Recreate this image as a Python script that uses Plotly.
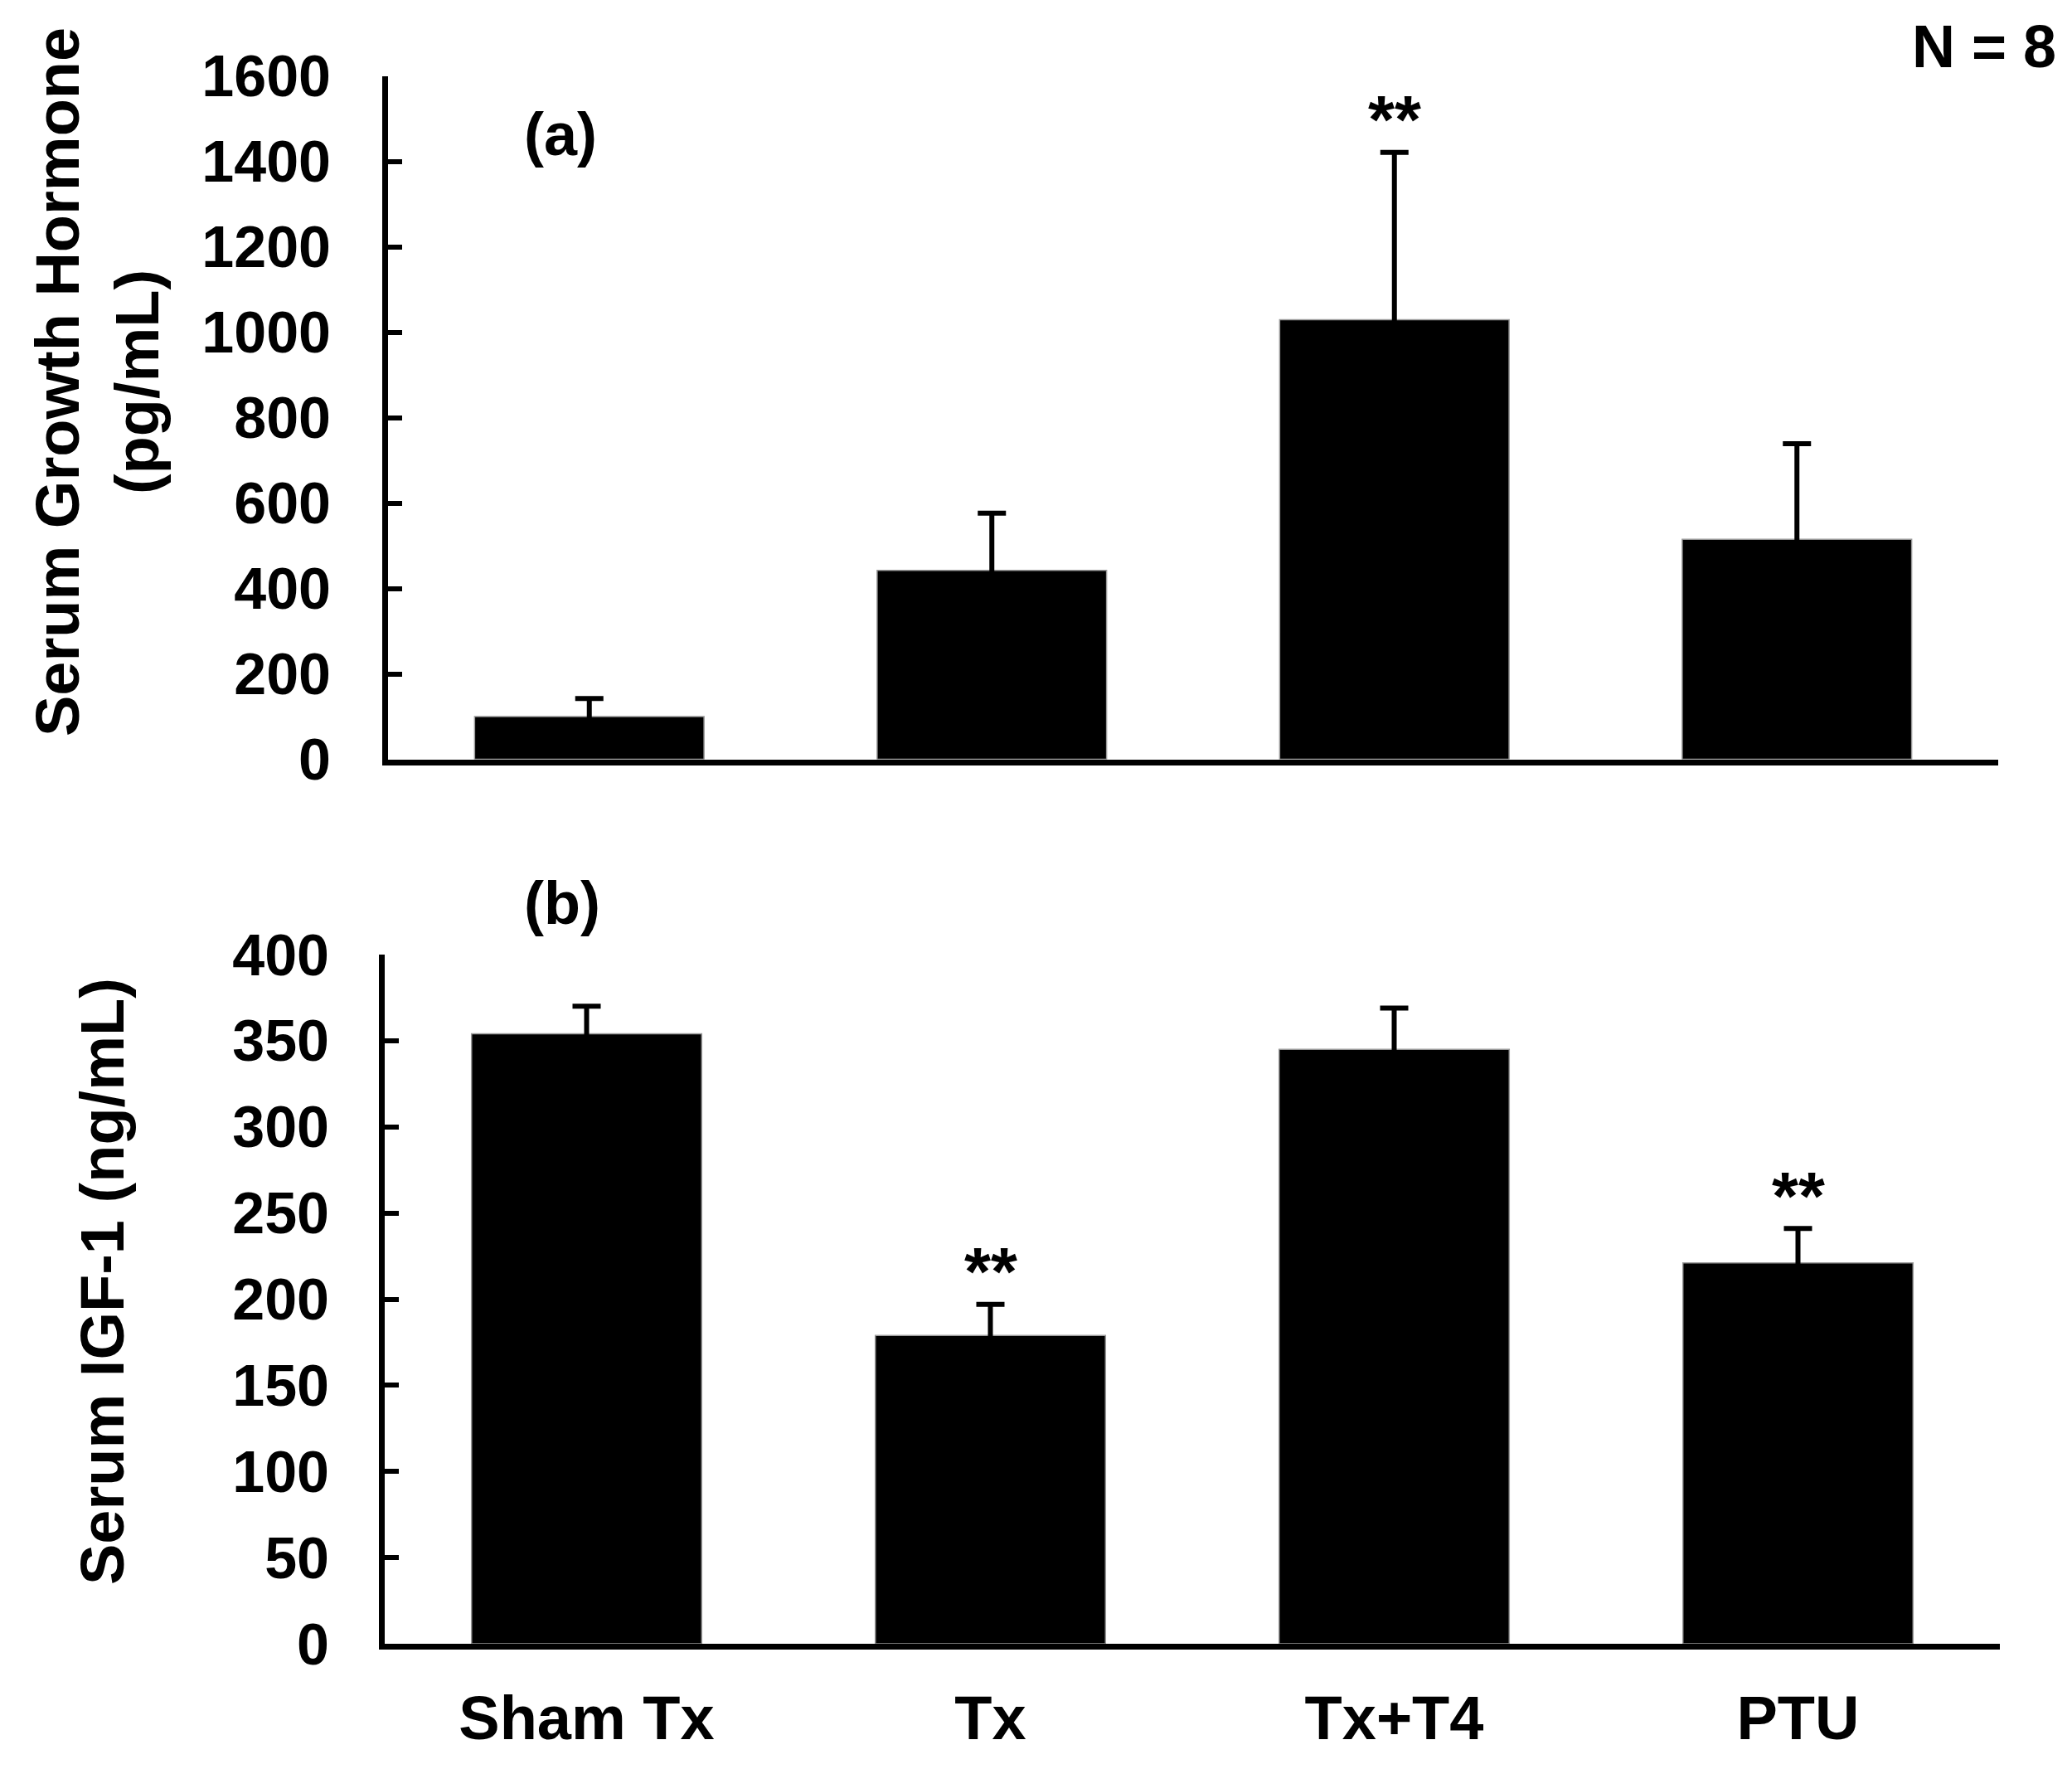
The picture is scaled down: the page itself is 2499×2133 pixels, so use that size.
import plotly.graph_objects as go

groups = ["Sham Tx", "Tx", "Tx+T4", "PTU"]

gh_mean = [100, 442, 1029, 515]   # serum growth hormone, pg/mL
gh_sem = [42, 134, 392, 224]

igf_mean = [354, 179, 345, 221]   # serum IGF-1, ng/mL
igf_sem = [16, 18, 24, 20]

gh_stars = ["", "", "**", ""]
igf_stars = ["", "**", "", "**"]

FONT = "Liberation Sans"
W, H = 2499, 2133
DX, DY = -10, -9   # page offset correction


def px(x):
    return (x + DX) / W


def py(y):
    return (H - (y + DY)) / H


fig = go.Figure()

bar_style = dict(color="black", line=dict(color="#9a9a9a", width=1.5))


def err(vals):
    # lower half sits inside the black bar, so only the upper whisker shows
    return dict(type="data", array=vals, symmetric=True,
                color="black", thickness=6, width=17)


fig.add_trace(go.Bar(x=groups, y=gh_mean, marker=bar_style,
                     error_y=err(gh_sem), xaxis="x", yaxis="y"))
fig.add_trace(go.Bar(x=groups, y=igf_mean, marker=bar_style,
                     error_y=err(igf_sem), xaxis="x2", yaxis="y2"))

tickfont = dict(family=FONT, size=70, color="black", weight="bold")

axis_common = dict(showline=True, linecolor="black", linewidth=7,
                   showgrid=False, zeroline=False, mirror=False,
                   automargin=False)

fig.update_layout(
    template="none",
    width=W, height=H,
    margin=dict(l=0, r=0, t=0, b=0, pad=0),
    paper_bgcolor="white", plot_bgcolor="white",
    showlegend=False, bargap=0.43,
    xaxis=dict(domain=[px(470), px(2412)], anchor="y", showticklabels=False,
               ticks="", **axis_common),
    yaxis=dict(domain=[py(916.5), py(92.5)], anchor="x",
               range=[0, 1600], dtick=200, ticks="inside", ticklen=17,
               tickwidth=6, tickcolor="black", tickfont=tickfont,
               ticklabelstandoff=48, **axis_common),
    xaxis2=dict(domain=[px(466), px(2414)], anchor="y2", ticks="",
                tickfont=dict(family=FONT, size=74, color="black",
                              weight="bold"),
                ticklabelstandoff=19, **axis_common),
    yaxis2=dict(domain=[py(1983), py(1152)], anchor="x2",
                range=[0, 400], dtick=50, ticks="inside", ticklen=17,
                tickwidth=6, tickcolor="black", tickfont=tickfont,
                ticklabelstandoff=46, **axis_common),
)

title_font = dict(family=FONT, size=74, color="black", weight="bold")
ann_font = dict(family=FONT, size=72, color="black", weight="bold")
star_font = dict(family=FONT, size=82, color="black", weight="bold")

paper = dict(xref="paper", yref="paper", xanchor="center", yanchor="middle",
             showarrow=False)
annotations = [
    dict(text="Serum Growth Hormone<br>(pg/mL)", x=px(119), y=py(462),
         textangle=-90, font=title_font, **paper),
    dict(text="Serum IGF-1 (ng/mL)", x=px(125), y=py(1546),
         textangle=-90, font=title_font, **paper),
    dict(text="(a)", x=px(678), y=py(163), font=ann_font, **paper),
    dict(text="(b)", x=px(680), y=py(1090), font=ann_font, **paper),
    dict(text="N = 8", x=px(2395), y=py(57), font=ann_font, **paper),
]

for g, m, s, st in zip(groups, gh_mean, gh_sem, gh_stars):
    if st:
        annotations.append(dict(text=st, x=g, y=m + s, xref="x", yref="y",
                                xanchor="center", yanchor="middle", yshift=40,
                                showarrow=False, font=star_font))
for g, m, s, st in zip(groups, igf_mean, igf_sem, igf_stars):
    if st:
        annotations.append(dict(text=st, x=g, y=m + s, xref="x2", yref="y2",
                                xanchor="center", yanchor="middle", yshift=40,
                                showarrow=False, font=star_font))

fig.update_layout(annotations=annotations)

fig.write_html("out.html")
